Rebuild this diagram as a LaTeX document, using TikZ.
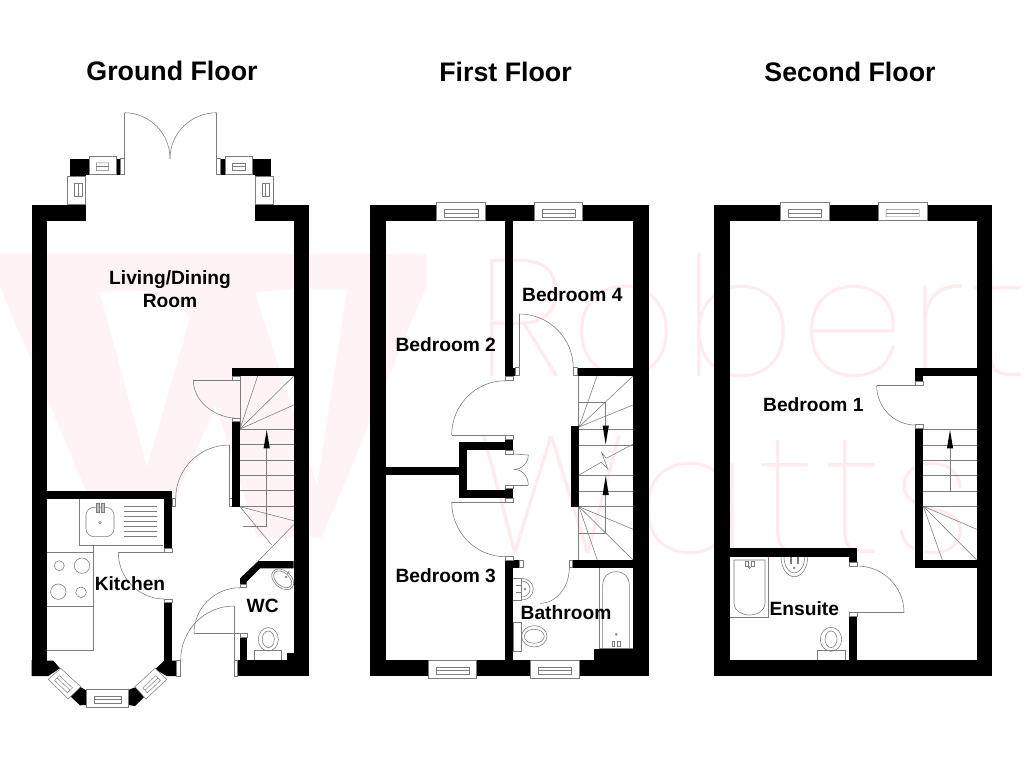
\documentclass[tikz,border=0pt]{standalone}
\usepackage{fontspec}
\setmainfont{Liberation Sans}
\newfontfamily\wmfont[UprightFont=* Thin]{Poppins}
\usetikzlibrary{calc}
\definecolor{wmpink}{HTML}{FFF3F5}
\definecolor{wmline}{HTML}{FFEAED}
\definecolor{planline}{HTML}{7C7C7C}
\tikzset{
  wall/.style={fill=black,draw=none},
  thinln/.style={draw=planline,line width=0.42pt},
  jamb/.style={fill=white,draw=planline,line width=0.38pt},
  winbox/.style={fill=white,draw=planline,line width=0.38pt},
  tiphead/.style={fill=black,draw=none},
  room/.style={font=\bfseries\fontsize{14.4pt}{17.25pt}\selectfont,align=center,inner sep=0pt,text=black},
  title/.style={font=\bfseries\fontsize{20.1pt}{24pt}\selectfont,inner sep=0pt,text=black},
  wmtext/.style={font=\wmfont\fontsize{125pt}{125pt}\selectfont,inner sep=0pt,text=wmline,anchor=base west}
}
% quarter arc from S to E with tangent corner K
\newcommand{\qa}[3]{\draw[thinln] (#1) .. controls ($(#1)!0.5523!(#2)$) and ($(#3)!0.5523!(#2)$) .. (#3);}
% window with corners A B C D (A-B long side); inner frame margin f
\newcommand{\win}[5]{%
  \draw[winbox] (#1) -- (#2) -- (#3) -- (#4) -- cycle;
  \coordinate (wa) at ($(#1)!.37!(#4)$);
  \coordinate (wb) at ($(#2)!.37!(#3)$);
  \coordinate (wc) at ($(#2)!.78!(#3)$);
  \coordinate (wd) at ($(#1)!.78!(#4)$);
  \coordinate (we) at ($(#1)!.57!(#4)$);
  \coordinate (wf) at ($(#2)!.57!(#3)$);
  \draw[thinln,line width=0.33pt] ($(wa)!#5!(wb)$) -- ($(wb)!#5!(wa)$) -- ($(wc)!#5!(wd)$) -- ($(wd)!#5!(wc)$) -- cycle;
  \draw[thinln,line width=0.33pt] ($(we)!#5!(wf)$) -- ($(wf)!#5!(we)$);
}
\newcommand{\winR}[5]{\win{#1,#2}{#3,#2}{#3,#4}{#1,#4}{#5}}
\newcommand{\winV}[5]{\win{#1,#2}{#1,#4}{#3,#4}{#3,#2}{#5}}
\begin{document}
\begin{tikzpicture}[x=0.75pt,y=-0.75pt]
\useasboundingbox (0,0) rectangle (1024,768);
\fill[white] (0,0) rectangle (1024,768);
\begin{scope}
\clip (0,0) rectangle (1024,768);
% watermark W
\fill[wmpink] (0,254) -- (426,254) -- (426,287) -- (322,537) -- (257,537) -- (216,405) -- (172,507) -- (172,495) -- (88,495) -- (0,287) -- cycle;
\fill[white] (100,293) .. controls (130,286) and (170,290) .. (190,318) -- (147,467) -- cycle;
\fill[white] (255,293) .. controls (285,288) and (320,288) .. (347,290) -- (317,485) -- cycle;
% watermark words
\node[wmtext] (wmrobert) at (476,376) {\addfontfeature{LetterSpace=3}Robert};
\node[wmtext] (wmwatts) at (476,553) {\addfontfeature{LetterSpace=6}Watts};
\end{scope}

% ---------- fixtures ground floor
\draw[thinln] (79,498.7) -- (79,545) -- (163.3,545);
\draw[thinln,rounded corners=6pt] (86,507.3) rectangle (114,536.7);
\draw[thinln,fill=gray!50] (96.3,503) rectangle (99,512.5);
\draw[thinln,fill=gray!50] (101.3,503) rectangle (104,512.5);
\draw[thinln] (100,522.7) circle (1.3);
\foreach \yy in {506.7,511.7,516.7,521.7,526.7,531.7,536}{\draw[thinln] (124.3,\yy) -- (156.7,\yy);}
\draw[thinln] (46.7,552.3) -- (93.3,552.3);
\draw[thinln] (46.7,606) -- (93.3,606);
\draw[thinln] (46.7,650) -- (93.3,650) -- (93.3,545);
\draw[thinln] (59.3,565.7) circle (5);
\draw[thinln] (82,565.7) circle (7.7);
\draw[thinln] (58.3,591.7) circle (7.7);
\draw[thinln] (81,592.3) circle (5.3);
% WC
\draw[thinln,fill=white] (254.3,650.7) rectangle (281,660);
\draw[thinln] (268.3,639.3) ellipse (10 and 11.7);
\draw[thinln] (268.3,639.3) ellipse (6 and 8.3);
\draw[thinln,rotate around={-40:(282.7,579.3)}] (282.7,579.3) ellipse (12.5 and 8.5);
\draw[thinln,rotate around={-40:(282.7,579.3)}] (282.7,579.3) ellipse (10.5 and 6.5);
\draw[thinln] (287,574) -- (289,571);
\draw[thinln] (286,577) circle (1);
% stairs ground
\foreach \yy in {429.3,444.3,460,475.3,490.7,506}{\draw[thinln] (240,\yy) -- (293.7,\yy);}
\draw[thinln] (240,376) -- (240,429);
\draw[thinln] (240,429) -- (257.7,376);
\draw[thinln] (240,429) -- (293.7,376);
\draw[thinln] (240,429) -- (293.7,405);
\draw[thinln] (240,506.7) -- (293.7,520.7);
\draw[thinln] (240,506.7) -- (271.7,545);
\draw[thinln] (293.7,524.7) -- (258.3,561);
\draw[thinln] (266.7,448) -- (266.7,526) -- (243.3,526);
\fill[tiphead] (266.7,430) -- (269.8,448.3) -- (263.6,448.3) -- cycle;
% doors ground
\draw[thinln] (193.3,380) -- (240,380);
\qa{193.3,380}{193.3,418.5}{240,418.5}
\draw[thinln] (229.3,445) -- (229.3,506.7) -- (232,506.7);
\draw[thinln] (229.3,498.3) -- (232,498.3);
\qa{229.3,445}{175.7,445}{175.7,498.3}
\draw[thinln] (118.3,552.3) -- (164.3,552.3);
\qa{118.3,552.3}{118.3,599}{164.3,599}
\draw[thinln] (194,633.3) -- (240,633.3);
\qa{240,587.7}{194,587.7}{194,633.3}
\draw[thinln] (234,606) -- (234,660);
\qa{234,606}{180.7,606}{180.7,660}
\draw[thinln] (124.3,158.7) -- (124.3,112.7);
\qa{124.3,112.7}{170,112.7}{170,158.7}
\draw[thinln] (216.7,158.7) -- (216.7,112.7);
\qa{216.7,112.7}{170,112.7}{170,158.7}

% ---------- fixtures first floor
\draw[thinln] (599.3,567.7) -- (599.3,649);
\draw[thinln] (602.7,648.5) -- (602.7,585) .. controls (602.7,577) and (608,571.7) .. (616,571.7) .. controls (624,571.7) and (629.3,577) .. (629.3,585) -- (629.3,648.5);
\draw[thinln] (599.3,648.3) -- (633,648.3);
\draw[thinln] (616.3,634.3) circle (1);
\draw[thinln] (612.3,641) rectangle (614.5,646.5);
\draw[thinln] (617.7,641) rectangle (619.9,646.5);
\draw[thinln] (513.3,578.3) -- (521.7,578.3) -- (521.7,600) -- (513.3,600);
\qa{521.7,578.3}{533.3,578.3}{533.3,589}
\qa{533.3,589}{533.3,600}{521.7,600}
\qa{521.7,581}{530,581}{530,589}
\qa{530,589}{530,597}{521.7,597}
\draw[thinln] (516,585.5) -- (521,585.5);
\draw[thinln] (516,592.5) -- (521,592.5);
\draw[thinln] (525,589) circle (1);
\draw[thinln] (513.3,622.3) rectangle (521.7,651);
\draw[thinln] (534.3,636.3) ellipse (12.7 and 10.7);
\draw[thinln] (534.3,636.3) ellipse (10 and 7);
% stairs first
\draw[thinln] (578.3,376) -- (578.3,426);
\draw[thinln] (578.3,506.7) -- (578.3,560);
\draw[thinln] (579,427) -- (597,376);
\draw[thinln] (579,427) -- (633,376);
\draw[thinln] (579,427) -- (633,405);
\draw[thinln] (578.3,402.3) -- (605.7,402.3) -- (605.7,426);
\foreach \yy in {429.3,445,475.3,491,506.7}{\draw[thinln] (579,\yy) -- (633,\yy);}
\draw[thinln] (579,475) -- (601,462.3) -- (607.7,469) -- (601.7,452.7) -- (606.3,458.3) -- (633.3,444);
\fill[tiphead] (605.7,444.3) -- (602.6,425.7) -- (608.8,425.7) -- cycle;
\fill[tiphead] (605.7,476) -- (608.8,495) -- (602.6,495) -- cycle;
\draw[thinln] (605.7,495) -- (605.7,533.3) -- (579,533.3);
\draw[thinln] (579,506.7) -- (633,529.3);
\draw[thinln] (579,506.7) -- (633,560);
\draw[thinln] (579,506.7) -- (597.3,560);
% doors first
\draw[thinln] (519.3,368) -- (519.3,314);
\qa{519.3,314}{573.3,314}{573.3,368}
\draw[thinln] (451.7,435) -- (505.3,435);
\qa{505.3,380.7}{451.7,380.7}{451.7,435}
\draw[thinln] (451.7,502) -- (505.3,502);
\qa{451.7,502}{451.7,556.7}{505.3,556.7}
\qa{569.3,567.7}{569.3,603.3}{540,603.3}
\draw[thinln] (513.3,454) -- (528.3,455);
\qa{528.3,455}{528.3,469.3}{514,469.3}
\draw[thinln] (513.3,485) -- (528.3,485);
\qa{528.3,485}{528.3,469.3}{514,469.3}

% ---------- fixtures second floor
\draw[thinln] (730.3,617.3) -- (768.3,617.3) -- (768.3,556.7);
\draw[thinln] (734,560) -- (765,560) -- (765,603) .. controls (765,612) and (755,615) .. (749.5,615) .. controls (744,615) and (734,612) .. (734,603) -- cycle;
\draw[thinln] (745.5,561.5) rectangle (748,566.5);
\draw[thinln] (751.5,561.5) rectangle (754,566.5);
\draw[thinln] (749.5,567.5) circle (1);
\qa{781,556.7}{781,576.7}{794.3,576.7}
\qa{807.7,556.7}{807.7,576.7}{794.3,576.7}
\qa{784,556.7}{784,573}{794.3,573}
\qa{804.7,556.7}{804.7,573}{794.3,573}
\draw[thinln] (790.3,557) rectangle (791.7,563);
\draw[thinln] (797,557) rectangle (798.4,563);
\draw[thinln] (794.3,568) circle (1);
\draw[thinln] (817.3,650.7) rectangle (845,660);
\draw[thinln] (831,639.3) ellipse (10.7 and 12);
\draw[thinln] (831,639.3) ellipse (6 and 8.3);
% stairs second
\foreach \yy in {429.3,445,460.3,475.7,491,506.3}{\draw[thinln] (923.3,\yy) -- (976.7,\yy);}
\draw[thinln] (950,448) -- (950,491);
\fill[tiphead] (950,430) -- (953.1,448.3) -- (946.9,448.3) -- cycle;
\draw[thinln] (923.3,506.3) -- (976.7,529.3);
\draw[thinln] (923.3,506.3) -- (976.7,560);
\draw[thinln] (923.3,506.3) -- (942.3,560);
% doors second
\draw[thinln] (876.7,385.7) -- (915.3,385.7);
\qa{876.7,385.7}{876.7,425}{915.3,425}
\draw[thinln] (849.3,612.7) -- (904,612.7);
\qa{857.3,566}{904,566}{904,612.7}

% ---------- walls ground floor
\fill[wall] (31.7,205) rectangle (85.7,221);
\fill[wall] (31.7,205) rectangle (46.7,676);
\fill[wall] (255,205) rectangle (309,221);
\fill[wall] (293.7,205) rectangle (309,676);
\fill[wall] (237.7,660) rectangle (309,676);
\fill[wall] (286.7,653.3) rectangle (293.7,660);
\fill[wall] (240,637.7) rectangle (247.3,660);
\fill[wall] (258.3,561) -- (293.7,561) -- (293.7,568.3) -- (260,568.3) -- (246.7,581.7) -- (246.7,584) -- (240,584) -- (240,578.3) -- cycle;
\fill[wall] (232,367.7) rectangle (293.7,376);
\fill[wall] (232,421.7) rectangle (240,506.7);
\fill[wall] (46.7,490.7) rectangle (172.3,498.7);
\fill[wall] (164.3,490.7) rectangle (172.3,548.3);
\fill[wall] (164.3,602.3) rectangle (172.3,661);
\fill[wall] (155,669.3) -- (164.3,660.7) -- (176.7,660.7) -- (176.7,676) -- (166.7,676) -- cycle;
\fill[wall] (31.7,676) -- (31.7,660) -- (53.3,660.7) -- (60,668.3) -- (48.3,676) -- cycle;
\fill[wall] (86.7,690.7) -- (80,686.7) -- (70,696) -- (80,705.3) -- (86.7,705) -- cycle;
\fill[wall] (128.3,690) -- (135,687.3) -- (145,696) -- (135,706) -- (128.3,705) -- cycle;
\fill[wall] (70,159) rectangle (89,175);
\fill[wall] (70,175) rectangle (85.7,176);
\fill[wall] (116,158.7) rectangle (120.7,174.7);
\fill[wall] (220.7,158.7) rectangle (225.3,174.7);
\fill[wall] (252.3,159) rectangle (270.7,175);
\fill[wall] (255.3,175) rectangle (270.7,176);
% jambs ground
\draw[jamb] (232,376) rectangle (240,380);
\draw[jamb] (232,418) rectangle (240,421.7);
\draw[jamb] (172.3,498.3) rectangle (175.7,506.7);
\draw[jamb] (164.3,548.3) rectangle (172.3,552.3);
\draw[jamb] (164.3,599) rectangle (172.3,602.3);
\draw[jamb] (240,584.3) rectangle (246.7,587.7);
\draw[jamb] (240,633.3) rectangle (247.3,637.7);
\draw[jamb] (234,660) rectangle (237.7,676);
\draw[jamb] (176.7,660) rectangle (180.7,676);
\draw[jamb] (120.7,158.7) rectangle (124.3,174.7);
\draw[jamb] (216.7,158.7) rectangle (220.7,174.7);
% windows ground
\winR{89}{156}{116}{174.7}{.27}
\winR{225.3}{156}{252.3}{174.7}{.27}
\winV{67.7}{176}{85.7}{204}{.27}
\winV{255.3}{176}{273.3}{204}{.27}
\winR{86.7}{689.3}{128.3}{707.3}{.18}
\win{60.7,668.3}{80.7,686.7}{68.3,699}{48.3,679.3}{.18}
\win{155,668.3}{135,686.7}{146,699}{166.7,679.3}{.18}

% ---------- walls first floor
\fill[wall] (370.3,205) rectangle (648.7,221);
\fill[wall] (370.3,205) rectangle (386,676);
\fill[wall] (633,205) rectangle (648.7,676);
\fill[wall] (370.3,660) rectangle (648.7,676);
\fill[wall] (505.3,221) rectangle (513.3,376.7);
\fill[wall] (505.3,368) rectangle (515.7,375.7);
\fill[wall] (577.3,367.7) rectangle (633,375.7);
\fill[wall] (571,425.7) rectangle (579,506.7);
\fill[wall] (459.3,441.7) rectangle (513.3,450);
\fill[wall] (505.3,439) rectangle (513.3,450.7);
\fill[wall] (459.3,441.7) rectangle (467.3,498.3);
\fill[wall] (459.3,490.3) rectangle (513.3,498.3);
\fill[wall] (505.3,488.3) rectangle (513.3,498.3);
\fill[wall] (386,467.3) rectangle (459.3,475.3);
\fill[wall] (505.3,560) rectangle (513.3,660);
\fill[wall] (505.3,560) rectangle (519.3,567.7);
\fill[wall] (572.7,560) rectangle (633,567.7);
\fill[wall] (594.3,649) rectangle (633,660);
\draw[jamb] (515.7,367.7) rectangle (519.3,375.7);
\draw[jamb] (573.3,367.7) rectangle (577.3,375.7);
\draw[jamb] (505.3,376.7) rectangle (513.3,380.7);
\draw[jamb] (505.3,435) rectangle (513.3,439);
\draw[jamb] (505.3,450.7) rectangle (513.3,454);
\draw[jamb] (505.3,485) rectangle (513.3,488.3);
\draw[jamb] (505.3,498.3) rectangle (513.3,502);
\draw[jamb] (505.3,556.7) rectangle (513.3,560);
\draw[jamb] (519.3,560) rectangle (523,567.7);
\draw[jamb] (569.3,560) rectangle (572.7,567.7);
\winR{436.3}{202.7}{485.7}{220.7}{.16}
\winR{534}{202.7}{582.7}{220.7}{.16}
\winR{428}{660}{476.7}{678.3}{.16}
\winR{530.7}{660}{579.3}{678.3}{.16}

% ---------- walls second floor
\fill[wall] (714.3,205) rectangle (992.3,221);
\fill[wall] (714.3,205) rectangle (730.3,676);
\fill[wall] (976.7,205) rectangle (992.3,676);
\fill[wall] (714.3,660) rectangle (992.3,676);
\fill[wall] (915.3,367.7) rectangle (976.7,375.7);
\fill[wall] (915.3,367.7) rectangle (923.3,381.7);
\fill[wall] (915.3,428) rectangle (923.3,568.3);
\fill[wall] (915.3,560.3) rectangle (976.7,568.3);
\fill[wall] (730.3,548.3) rectangle (857.3,556.7);
\fill[wall] (849.3,548.3) rectangle (857.3,562.7);
\fill[wall] (849.3,616.7) rectangle (857.3,660);
\draw[jamb] (915.3,381.7) rectangle (923.3,385.7);
\draw[jamb] (915.3,424.3) rectangle (923.3,428);
\draw[jamb] (849.3,562.7) rectangle (857.3,566.7);
\draw[jamb] (849.3,612.7) rectangle (857.3,616.7);
\winR{780.7}{202.7}{829.3}{220.7}{.16}
\winR{878.3}{202.7}{927}{220.7}{.16}

% ---------- labels
\node[title] (tg) at (172,71) {Ground Floor};
\node[title] (tf) at (505.5,72) {First Floor};
\node[title] (ts) at (850,72) {Second Floor};
\node[room] (living) at (170,289) {Living/Dining\\Room};
\node[room] (kitchen) at (130,584) {Kitchen};
\node[room] (wc) at (262.7,606) {WC};
\node[room] (bed2) at (445.7,344.3) {Bedroom 2};
\node[room] (bed4) at (572.3,294.7) {Bedroom 4};
\node[room] (bed3) at (445.7,575.7) {Bedroom 3};
\node[room] (bath) at (566,612.7) {Bathroom};
\node[room] (bed1) at (813.3,404.7) {Bedroom 1};
\node[room] (ens) at (804.3,608.7) {Ensuite};
\end{tikzpicture}
\end{document}
